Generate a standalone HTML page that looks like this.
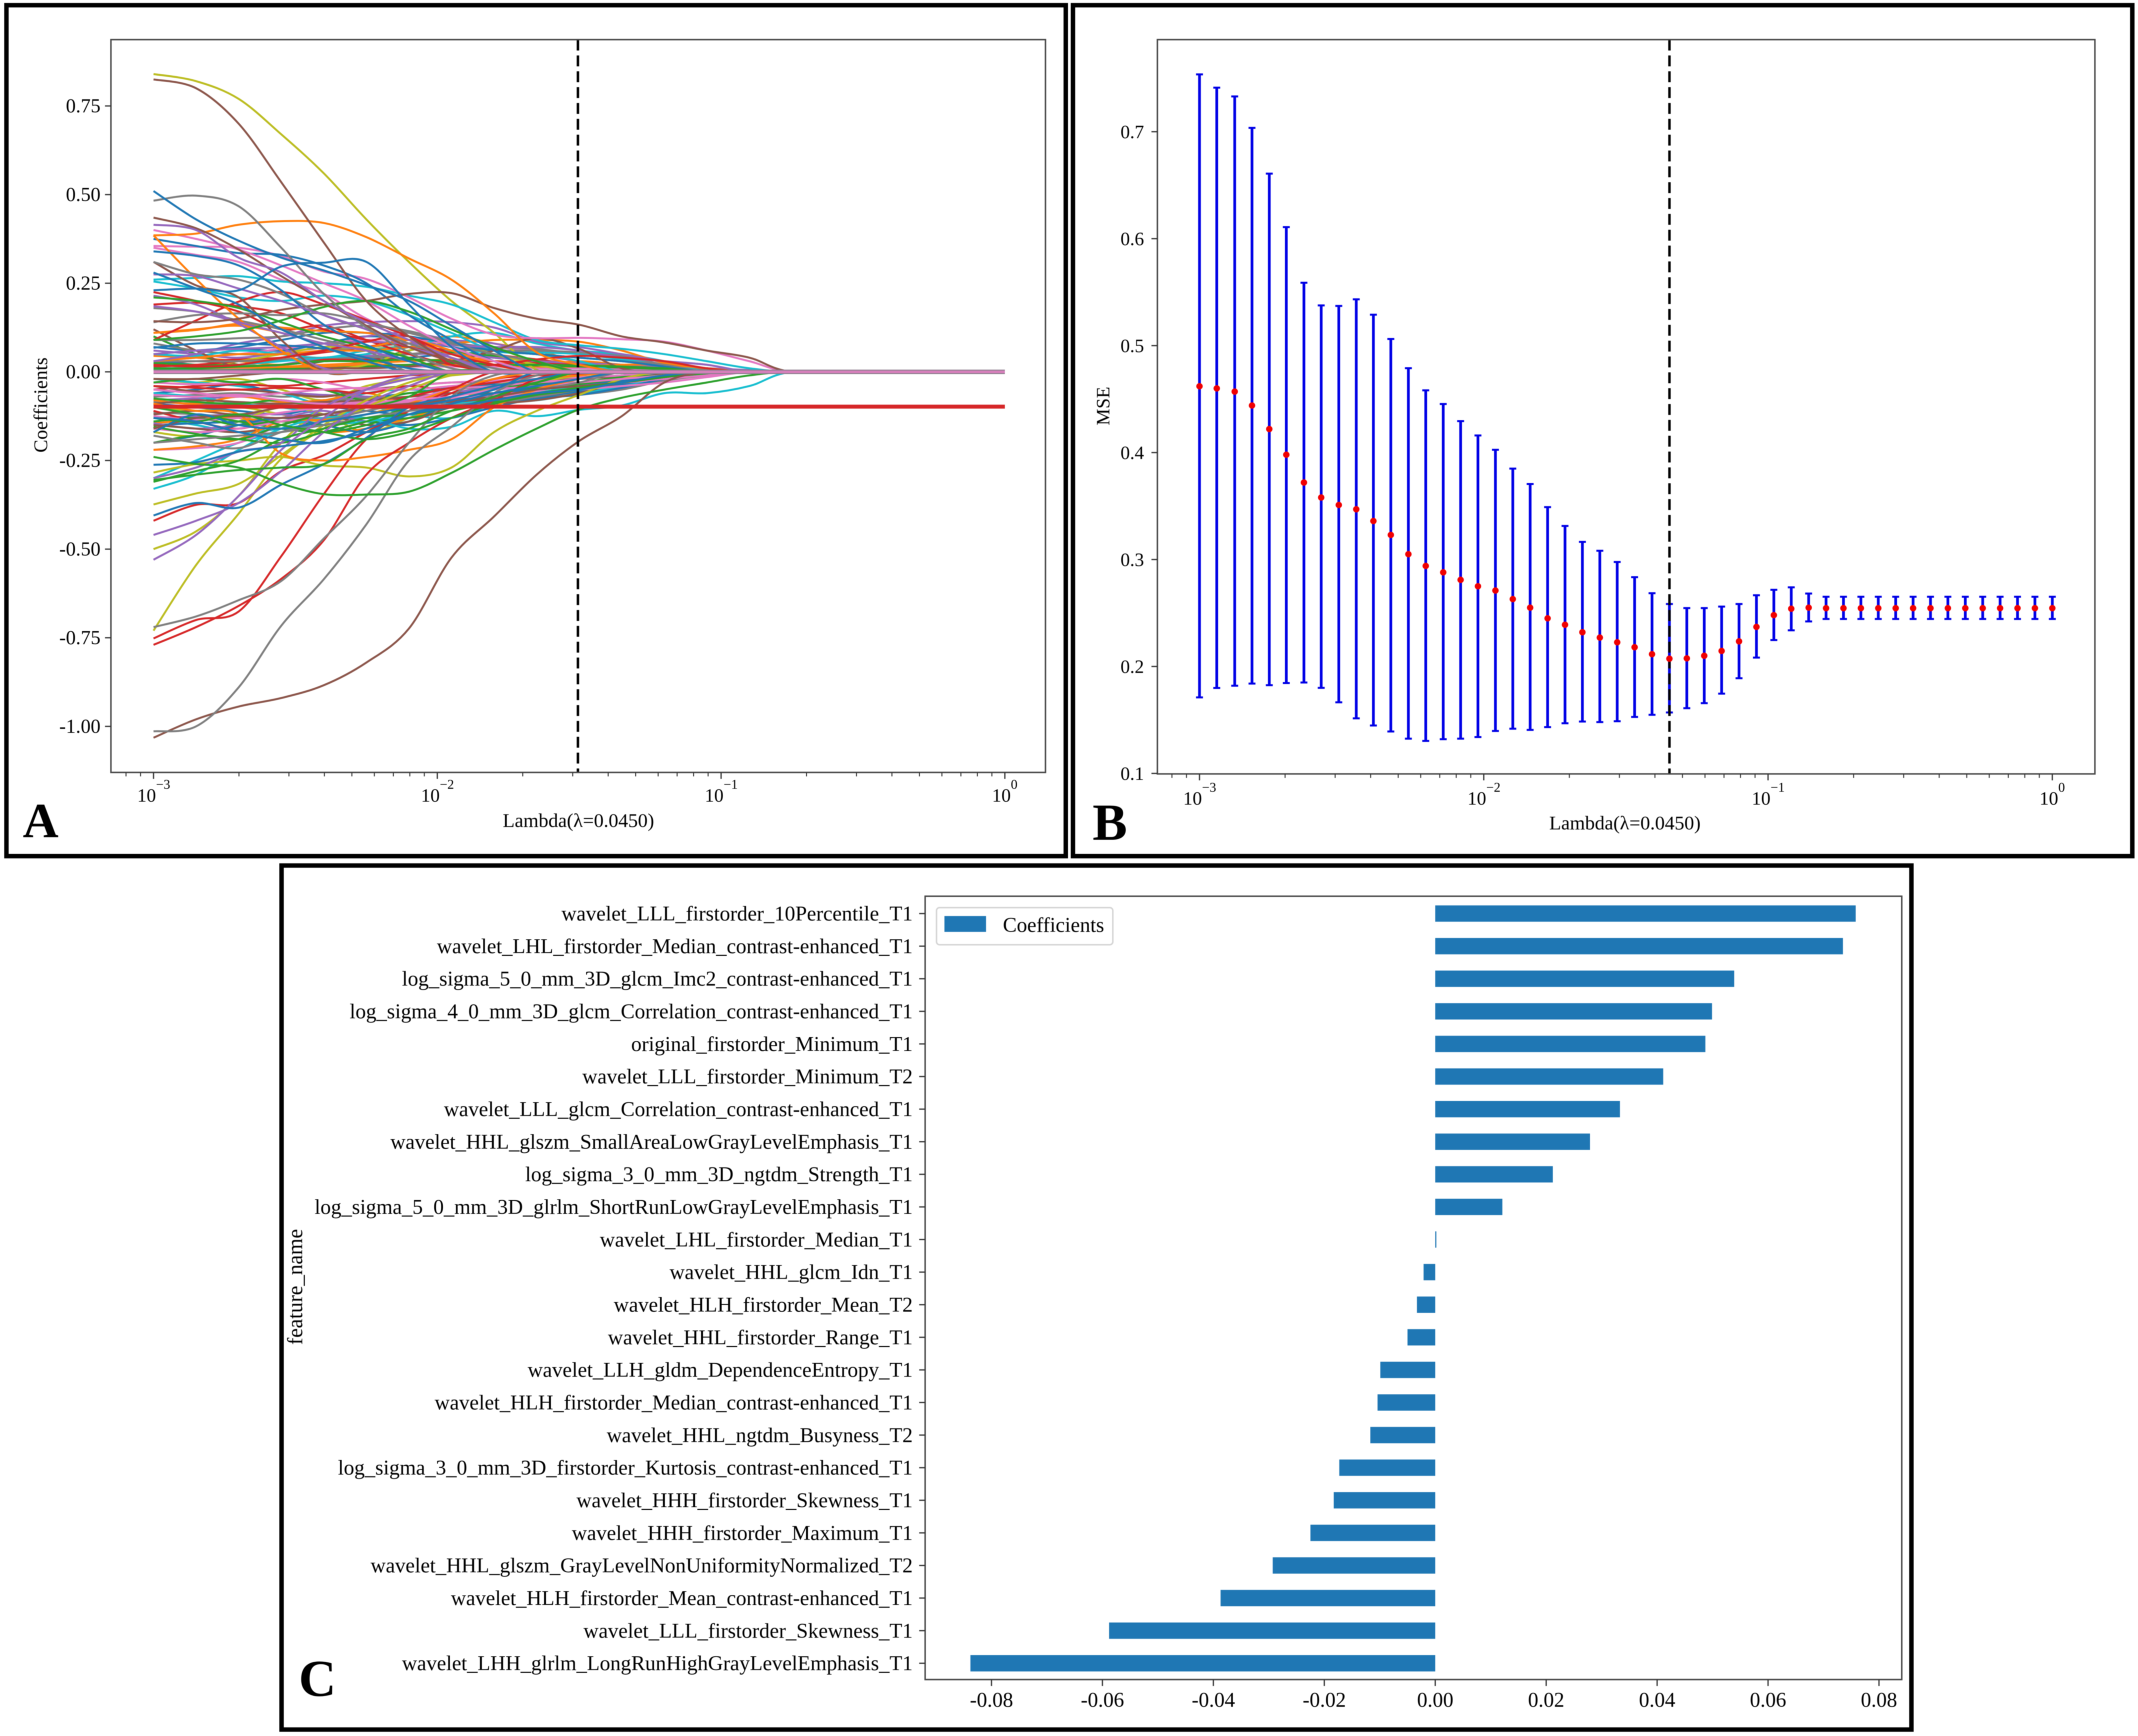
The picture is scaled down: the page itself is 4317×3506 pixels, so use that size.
<!DOCTYPE html>
<html lang="en">
<head>
<meta charset="utf-8">
<title>LASSO feature selection figure</title>
<style>
html,body{margin:0;padding:0;background:#fff;}
svg{display:block;filter:blur(0.7px);}
text{font-family:"Liberation Serif",serif;fill:#000;}
</style>
</head>
<body>
<svg id="figure" xmlns="http://www.w3.org/2000/svg" width="4317" height="3506" viewBox="0 0 4317 3506">
  <rect x="0" y="0" width="4317" height="3506" fill="#fff"/>

  <rect x="13" y="10.5" width="2139" height="1718.5" fill="none" stroke="#000" stroke-width="9"/>
  <rect x="2166.5" y="10.5" width="2139" height="1718.5" fill="none" stroke="#000" stroke-width="9"/>
  <rect x="568.5" y="1748" width="3291" height="1745" fill="none" stroke="#000" stroke-width="9"/>

  <g id="panelA"></g>
  <g id="panelB"></g>
  <g id="panelC"></g>

  <text x="1168" y="1670" font-size="39.5" text-anchor="middle">Lambda(λ=0.0450)</text>
  <text transform="translate(95 818) rotate(-90)" font-size="39.5" text-anchor="middle">Coefficients</text>
  <text x="46" y="1691" font-size="100" font-weight="bold">A</text>

  <text x="3281" y="1675" font-size="39.5" text-anchor="middle">Lambda(λ=0.0450)</text>
  <text transform="translate(2240 820) rotate(-90)" font-size="38" text-anchor="middle">MSE</text>
  <text x="2206" y="1696" font-size="105" font-weight="bold">B</text>

  <text transform="translate(610 2599) rotate(-90)" font-size="43" text-anchor="middle">feature_name</text>
  <text x="603" y="3425" font-size="105" font-weight="bold">C</text>

  <g>
    <rect x="1891" y="1833" width="356" height="75" rx="6" fill="#fff" stroke="#d5d5d5" stroke-width="3"/>
    <rect x="1907" y="1850" width="84" height="32" fill="#1f77b4"/>
    <text x="2025" y="1882" font-size="42">Coefficients</text>
  </g>
</svg>

<script>
// ---------- Panel A data: coefficient paths ----------
const lambdaExponents = [-3,-2.85,-2.7,-2.55,-2.4,-2.25,-2.1,-1.95,-1.8,-1.65,-1.5,-1.35,-1.2,-1.05,-0.9,-0.75,0];
const coefYTicks = [0.75,0.5,0.25,0,-0.25,-0.5,-0.75,-1];
const coefYTickLabels = ["0.75","0.50","0.25","0.00","-0.25","-0.50","-0.75","-1.00"];
const decadeExponents = [-3,-2,-1,0];
const coefCutoffLambda = 0.0313;
// values per lambdaExponents column; columns left off the end are 0
const bluePaths = [
[.07,.06,.065,.06,.08,.1,.09,.07,.05,.03,.02,.01],
[.03,.02,.015,.02,.03,.035,.04,.05,.04,.03,.02,.015,.01],
[-.06,-.05,-.035,-.06,-.05,-.07,-.06,-.045,-.035,-.025,-.015,-.01],
[-.09,-.1,-.11,-.12,-.1,-.11,-.12,-.1,-.08,-.07,-.055,-.035,-.015,-.005],
[-.15,-.145,-.14,-.13,-.12,-.14,-.15,-.13,-.1,-.075,-.065,-.045,-.02],
[-.2,-.18,-.15,-.13,-.15,-.17,-.14,-.09,-.06,-.05,-.04,-.025,-.01],
[.05,.06,.07,.09,.11,.11,.1,.08,.06,.05,.04,.03,.015],
[.068,.08,.08,.075,.065,.04,.01],
[.375,.355,.335,.33,.3,.25,.16,.09,.03],
[.34,.327,.30,.23,.133,.076,.03],
[.28,.235,.19,.12,.07,.03],
[.51,.43,.37,.322,.286,.245,.2,.13,.06],
[.23,.235,.23,.297,.308,.31,.19,.07],
[-.17,-.12,-.15,-.16,-.14,-.12,-.1,-.08,-.05],
[-.405,-.37,-.383,-.318,-.26,-.186,-.1,-.07,-.04,-.02],
[-.262,-.255,-.225,-.21,-.195,-.17,-.12,-.09,-.06,-.04,-.02],
[-.13,-.14,-.17,-.19,-.2,-.16,-.12,-.1,-.08,-.06,-.05,-.03,-.01]
];
const orangePaths = [
[.045,.04,.03,.02,.035,.05,.08,.1,.08,.06,.03,.02,.01],
[.015,.02,.02,.015,.02,.025,.03,.035,.03,.02,.03,.02,.01,.005],
[.005,.01,.012,.012,.015,.02,.02,.02,.02,.015,.015,.02,.02,.01],
[-.08,-.09,-.07,-.085,-.08,-.06,-.09,-.07,-.05,-.02,-.01],
[-.145,-.135,-.13,-.15,-.17,-.16,-.13,-.1,-.08,-.05,-.02],
[.03,.04,.05,.05,.06,.06,.07,.08,.09,.09,.085,.06,.025,.01],
[.11,.118,.135,.125,.115,.11,.09,.05,.03],
[.11,.12,.13,.11,.08,.07,.09,.06,.02],
[.385,.262,.15,.06,0],
[.385,.39,.415,.425,.42,.38,.32,.26,.165,.055,.02],
[-.22,-.21,-.19,-.14,-.135,-.12,-.09,-.05,-.02],
[-.09,-.11,-.12,-.23,-.25,-.24,-.22,-.19,-.1,-.05,-.02]
];
const greenPaths = [
[.1,.05,.02,.01,.015,.03,.06,.08,.06,.05,.04,.03,.02,.01],
[.025,.02,.02,.035,.03,.04,.05,.055,.045,.03,.025,.02,.015,.01],
[.008,.005,.005,.008,.01,.015,.02,.025,.02,.018,.015,.012,.008,.004],
[-.03,-.02,-.03,-.02,-.05,-.08,-.06,-.05,-.04,-.04,-.03,-.02,-.015,-.005],
[-.075,-.085,-.09,-.08,-.1,-.09,-.1,-.08,-.06,-.045,-.035,-.025,-.015],
[-.14,-.13,-.15,-.14,-.15,-.14,-.13,-.11,-.085,-.06,-.05,-.03,-.015],
[-.1,-.12,-.14,-.16,-.17,-.15,-.11,-.07,-.05,-.035,-.03,-.015,-.01],
[.01,.01,.015,.02,.03,.03,.035,.03,.02,.02,.018,.015,.01],
[.21,.2,.18,.14,.1,.07,.04],
[.09,.1,.115,.145,.183,.2,.17,.12,.07,.03],
[-.2,-.18,-.19,-.2,-.17,-.14,-.1,-.07,-.05,-.03],
[-.155,-.175,-.19,-.15,-.12,-.1,-.07],
[-.31,-.28,-.25,-.19,-.16,-.13,-.12,-.1,-.08,-.06,-.045,-.03,-.015],
[-.13,-.14,-.12,-.15,-.17,-.19,-.17,-.13,-.09,-.065,-.05,-.03,-.01],
[-.305,-.29,-.277,-.27,-.26,-.19,-.16,-.11,-.07,-.03],
[-.24,-.26,-.27,-.315,-.345,-.346,-.338,-.285,-.22,-.16,-.106,-.073,-.05,-.03,-.01]
];
const redPaths = [
[.03,.03,.035,.04,.055,.07,.09,.08,.05,.035,.02,.01],
[.015,.02,.03,.035,.035,.035,.035,.03,.03,.025,.02,.01,.005],
[-.05,-.04,-.035,-.04,-.03,-.02,-.01,-.005],
[-.04,-.045,-.05,-.045,-.05,-.06,-.04,-.05,-.02,-.01,-.005],
[-.11,-.14,-.16,-.13,-.12,-.1,-.07,-.045,-.03,-.01],
[.225,.2,.17,.12,.13,.09,.05,.02],
[.19,.195,.185,.165,.12,.09,.07,.04],
[.09,.145,.198,.225,.19,.146,.1,.05,.02],
[.02,.015,.02,.04,.06,.085,.1,.02,.02,.035,.045,.04,.03,.01],
[-.42,-.375,-.37,-.28,-.235,-.17,-.11,-.06,-.02],
[-.752,-.7,-.676,-.52,-.345,-.19,-.11,-.05],
[-.77,-.72,-.66,-.584,-.475,-.29,-.2,-.13,-.08,-.02]
];
const purplePaths = [
[.06,.05,.04,.055,.07,.1,.11,.09,.08,.05,.03,.02,.01],
[.01,.01,.005,.02,.04,.045,.05,.05,.04,.03,.025,.02,.015,.01,.005],
[-.08,-.075,-.07,-.06,-.065,-.07,-.08,-.06,-.04,-.03,-.03,-.02,-.01],
[-.13,-.125,-.12,-.12,-.13,-.11,-.08,-.06,-.045,-.04,-.03,-.02,-.01],
[-.145,-.16,-.15,-.13,-.11,-.14,-.11,-.08,-.07,-.05,-.03,-.02],
[.03,.05,.08,.1,.13,.14,.143,.14,.125,.085,.07,.05,.03,.02],
[.05,.06,.065,.07,.08,.085,.08,.075,.07,.07,.06,.04,.03,.02],
[.215,.19,.135,.07,.01],
[.185,.17,.14,.11,.08,.06,.03],
[.275,.27,.235,.2,.16,.12,.07,.04],
[.415,.4,.322,.28,.2,.14,.09,.04],
[-.3,-.27,-.225,-.2,-.1,-.05,-.02],
[-.46,-.42,-.37,-.28,-.17,-.09,-.04],
[-.53,-.46,-.35,-.22,-.13,-.05,-.01]
];
const brownPaths = [
[.02,.03,.02,.01,.03,.05,.07,.06,.04,.03,.025,.015,.005],
[.12,.06,.01,0],
[-.04,-.055,-.05,-.06,-.07,-.05,-.04,-.03,-.03,-.025,-.02,-.012,-.005],
[-.09,-.08,-.085,-.09,-.085,-.08,-.07,-.06,-.06,-.05,-.04,-.03,-.015],
[-.12,-.11,-.12,-.1,-.09,-.1,-.09,-.085,-.075,-.07,-.05,-.03,-.02,-.01],
[-.15,-.16,-.17,-.15,-.12,-.15,-.14,-.1,-.09,-.08,-.06,-.03,-.015],
[-.02,-.02,-.01,0,.01,.01,.015,.03,.06,.095,.065,.01],
[.31,.244,.21,.09,0],
[.143,.14,.15,.175,.19,.2,.22,.222,.18,.15,.133,.10,.083,.06,.04],
[.435,.405,.345,.27,.2,.13,.07,.03],
[.825,.80,.70,.535,.365,.2,.1,.03],
[-.16,-.13,-.125,-.13,-.12,-.1,-.09,-.08,-.07,-.05,-.04,-.03,-.015],
[-1.032,-.98,-.944,-.92,-.884,-.82,-.724,-.524,-.408,-.29,-.195,-.125,-.03]
];
const pinkPaths = [
[.03,.04,.05,.065,.08,.09,.09,.08,.07,.06,.05,.04,.02,.01],
[.005,.005,.01,.01,.015,.02,.015,.015,.015,.01,.01,.008,.005],
[-.03,-.035,-.03,-.02,-.03,-.05,-.04,-.03,-.025,-.02,-.015,-.01],
[-.05,-.06,-.07,-.06,-.05,-.045,-.05,-.04,-.03,-.025,-.03,-.03,-.02,-.01],
[-.065,-.07,-.065,-.08,-.09,-.085,-.08,-.075,-.07,-.06,-.05,-.03,-.02,-.01],
[-.125,-.135,-.13,-.115,-.1,-.09,-.085,-.075,-.065,-.055,-.05,-.04,-.03,-.015],
[.35,.33,.31,.26,.22,.15,.1,.06,.02],
[.355,.353,.35,.327,.283,.262,.21,.15,.105,.095,.096,.092,.085,.06,.03],
[.4,.375,.345,.30,.25,.2,.13,.07,.03],
[-.22,-.215,-.2,-.15,-.12,-.1,-.08,-.05,-.04,-.03,-.02],
[-.16,-.17,-.16,-.14,-.12,-.1,-.08,-.07,-.05,-.04,-.03,-.02,-.01]
];
const grayPaths = [
[.08,.06,.05,.05,.06,.07,.08,.075,.07,.065,.05,.04,.02,.005],
[-.07,-.065,-.06,-.07,-.065,-.075,-.07,-.06,-.05,-.04,-.03,-.02,-.01],
[-.085,-.09,-.095,-.09,-.08,-.075,-.08,-.09,-.085,-.075,-.06,-.045,-.02,-.005],
[-.115,-.12,-.13,-.14,-.13,-.1,-.09,-.095,-.085,-.075,-.065,-.05,-.025,-.01],
[.03,.03,.03,.035,.04,.04,.05,.06,.06,.06,.055,.045,.02,.005],
[.09,.09,.095,.1,.12,.13,.115,.085,.065,.05,.04,.03,.02],
[.18,.17,.145,.12,.09,.06],
[.14,.16,.165,.16,.165,.14,.11,.08,.05,.03],
[.31,.275,.26,.22,.16,.12,.08,.04,.01],
[.483,.497,.467,.35,.22,.125,.055,.01],
[-.18,-.2,-.215,-.17,-.14,-.11,-.09,-.08,-.07,-.05,-.03],
[-.2,-.19,-.18,-.17,-.15,-.13,-.11,-.1,-.08,-.07,-.05,-.03,-.015],
[-.72,-.69,-.644,-.59,-.47,-.35,-.2,-.07,-.01],
[-1.014,-1,-.89,-.716,-.585,-.43,-.25,-.155,-.06,-.01]
];
const olivePaths = [
[.02,.015,.03,.05,.07,.065,.07,.05,.03,.02,.01,.01],
[-.02,-.03,-.02,-.05,-.08,-.04,-.02,-.01],
[-.1,-.11,-.1,-.12,-.14,-.12,-.09,-.07,-.05,-.03,-.01],
[-.17,-.18,-.14,-.1,-.12,-.17,-.13,-.09,-.04,-.02],
[0,0,0,0,.005,.02,.06,.08,.05,.02],
[.84,.82,.77,.67,.56,.43,.31,.2,.11,.006],
[-.374,-.343,-.316,-.235,-.15,-.08,-.03,-.005],
[-.5,-.45,-.35,-.2,-.1,-.05,-.01],
[-.73,-.545,-.4,-.245,-.16,-.1,-.05,-.01],
[-.284,-.26,-.25,-.24,-.264,-.27,-.295,-.27,-.17,-.11,-.065,-.02]
];
const cyanPaths = [
[.05,.045,.06,.05,.04,.06,.07,.05,.06,.055,.05,.035,.02,.01],
[-.02,-.03,-.04,-.06,-.09,-.06,-.05,-.06,-.05,-.03,-.02,-.01],
[-.06,-.07,-.09,-.1,-.12,-.13,-.11,-.09,-.08,-.08,-.06,-.04,-.02,-.005],
[-.13,-.15,-.17,-.16,-.14,-.1,-.12,-.13,-.09,-.06,-.05,-.03,-.01],
[.01,.01,.02,.03,.04,.05,.07,.1,.11,.08,.06,.05,.03],
[.255,.235,.21,.2,.215,.2,.16,.11,.06,.05,.03],
[.26,.265,.27,.255,.25,.24,.215,.19,.14,.09,.075,.065,.05,.03,.01],
[-.3,-.25,-.2,-.17,-.15,-.14,-.12,-.1,-.08,-.06,-.04,-.03,-.01],
[-.33,-.29,-.22,-.16,-.13,-.13,-.16,-.155,-.11,-.125,-.107,-.095,-.06,-.06,-.04]
];
const zeroPath = [0,0,0,0,0,0,0,0,0,0,0,0,0,0,0,0,0];
const flatPath = [-.098,-.098,-.098,-.098,-.098,-.098,-.098,-.098,-.098,-.098,-.098,-.098,-.098,-.098,-.098,-.098,-.098];

// ---------- Panel B data ----------
const mseLambdas = [0.001,0.00115,0.00133,0.00153,0.00176,0.00202,0.00233,0.00268,0.00309,0.00356,0.00409,0.00471,0.00543,0.00625,0.0072,0.00829,0.00954,0.01099,0.01265,0.01456,0.01677,0.01931,0.02223,0.0256,0.02947,0.03393,0.03907,0.04498,0.05179,0.05964,0.06866,0.07906,0.09103,0.10481,0.12068,0.13895,0.15999,0.18421,0.2121,0.24421,0.28118,0.32375,0.37276,0.42919,0.49417,0.56899,0.65513,0.75431,0.86851,1];
const mseMean = [.462,.46,.457,.444,.422,.398,.372,.358,.351,.347,.336,.323,.305,.294,.288,.281,.275,.271,.263,.255,.245,.239,.232,.227,.2226,.218,.2115,.2073,.2076,.21,.2145,.2235,.237,.248,.254,.255,.2545,.2545,.2545,.2545,.2545,.2545,.2545,.2545,.2545,.2545,.2545,.2545,.2545,.2545];
const mseUpper = [.7536,.7412,.733,.7036,.6608,.6108,.5588,.5376,.5371,.5433,.5289,.5062,.4789,.4582,.4454,.4294,.416,.4026,.385,.3706,.349,.3314,.3165,.3082,.2977,.2835,.2685,.2584,.2546,.2546,.256,.2584,.2666,.2717,.274,.2682,.2652,.2652,.2652,.2652,.2652,.2652,.2652,.2652,.2652,.2652,.2652,.2652,.2652,.2652];
const mseLower = [.1711,.1799,.182,.184,.1825,.1845,.185,.18,.1665,.1515,.1448,.1392,.1325,.1304,.132,.1325,.134,.1397,.1418,.1407,.1433,.1469,.1485,.148,.1488,.1528,.1548,.157,.161,.1657,.1746,.189,.2083,.2247,.2338,.2421,.2444,.2444,.2444,.2444,.2444,.2444,.2444,.2444,.2444,.2444,.2444,.2444,.2444,.2444];
const mseYTicks = [0.1,0.2,0.3,0.4,0.5,0.6,0.7];
const mseYTickLabels = ["0.1","0.2","0.3","0.4","0.5","0.6","0.7"];
const mseCutoffLambda = 0.045;

// ---------- Panel C data ----------
const featureNames = ["wavelet_LLL_firstorder_10Percentile_T1","wavelet_LHL_firstorder_Median_contrast-enhanced_T1","log_sigma_5_0_mm_3D_glcm_Imc2_contrast-enhanced_T1","log_sigma_4_0_mm_3D_glcm_Correlation_contrast-enhanced_T1","original_firstorder_Minimum_T1","wavelet_LLL_firstorder_Minimum_T2","wavelet_LLL_glcm_Correlation_contrast-enhanced_T1","wavelet_HHL_glszm_SmallAreaLowGrayLevelEmphasis_T1","log_sigma_3_0_mm_3D_ngtdm_Strength_T1","log_sigma_5_0_mm_3D_glrlm_ShortRunLowGrayLevelEmphasis_T1","wavelet_LHL_firstorder_Median_T1","wavelet_HHL_glcm_Idn_T1","wavelet_HLH_firstorder_Mean_T2","wavelet_HHL_firstorder_Range_T1","wavelet_LLH_gldm_DependenceEntropy_T1","wavelet_HLH_firstorder_Median_contrast-enhanced_T1","wavelet_HHL_ngtdm_Busyness_T2","log_sigma_3_0_mm_3D_firstorder_Kurtosis_contrast-enhanced_T1","wavelet_HHH_firstorder_Skewness_T1","wavelet_HHH_firstorder_Maximum_T1","wavelet_HHL_glszm_GrayLevelNonUniformityNormalized_T2","wavelet_HLH_firstorder_Mean_contrast-enhanced_T1","wavelet_LLL_firstorder_Skewness_T1","wavelet_LHH_glrlm_LongRunHighGrayLevelEmphasis_T1"];
const featureCoefficients = [.0758,.0735,.0539,.0499,.0487,.0411,.0333,.0279,.0212,.0121,.0002,-.0021,-.0033,-.005,-.0099,-.0104,-.0117,-.0173,-.0183,-.0225,-.0293,-.0387,-.0588,-.0838];
const featureXTicks = [-.08,-.06,-.04,-.02,0,.02,.04,.06,.08];
const featureXTickLabels = ["-0.08","-0.06","-0.04","-0.02","0.00","0.02","0.04","0.06","0.08"];

// ---------- Axis functions ----------
const SVG_NS = "http://www.w3.org/2000/svg";
function coefX(exponent){ return 310 + (exponent + 3) * 573; }
function coefY(value){ return 751 - value * 716; }
function mseX(lambda){ return 2422 + (Math.log10(lambda) + 3) * 574; }
function mseY(value){ return 1562 - (value - 0.1) * 2160; }
function featureX(value){ return 2898 + value * 11200; }
function featureY(index){ return 1845 + index * 65.83; }

function make(tag, parent, attrs, content){
  const node = document.createElementNS(SVG_NS, tag);
  for (const key in attrs) node.setAttribute(key, attrs[key]);
  if (content !== undefined) node.textContent = content;
  parent.appendChild(node);
  return node;
}
function smoothPath(points){
  let d = "M" + points[0][0].toFixed(1) + " " + points[0][1].toFixed(1);
  for (let i = 0; i < points.length - 1; i++){
    const p0 = points[Math.max(i - 1, 0)], p1 = points[i], p2 = points[i + 1], p3 = points[Math.min(i + 2, points.length - 1)];
    const limit = p2[0] - p1[0];
    const c1x = p1[0] + Math.min((p2[0] - p0[0]) / 6, limit / 2), c1y = p1[1] + (p2[1] - p0[1]) / 6;
    const c2x = p2[0] - Math.min((p3[0] - p1[0]) / 6, limit / 2), c2y = p2[1] - (p3[1] - p1[1]) / 6;
    d += "C" + c1x.toFixed(1) + " " + c1y.toFixed(1) + " " + c2x.toFixed(1) + " " + c2y.toFixed(1) + " " + p2[0].toFixed(1) + " " + p2[1].toFixed(1);
  }
  return d;
}
function drawSpines(parent, left, top, right, bottom, prefix){
  const box = make("rect", parent, {x:left, y:top, width:right-left, height:bottom-top, fill:"none", stroke:"#4a4a4a", "stroke-width":3});
  
  
}
function drawLogAxis(parent, xFn, left, right, bottom, sup10, supBase, prefix){
  const lowExp = Math.floor(xFn.min), highExp = Math.ceil(xFn.max);
  for (let e = lowExp; e < highExp; e++){
    for (let k = 2; k < 10; k++){
      const x = xFn.at(e + Math.log10(k));
      if (x <= left || x >= right) continue;
      const minor = make("line", parent, {x1:x, x2:x, y1:bottom, y2:bottom + 8, stroke:"#333", "stroke-width":2});
      
      
    }
  }
  decadeExponents.forEach(function(exp){
    const x = xFn.at(exp);
    const major = make("line", parent, {x1:x, x2:x, y1:bottom, y2:bottom + 13, stroke:"#333", "stroke-width":2.5});
    
    
    const supText = exp === 0 ? "0" : "\u2212" + Math.abs(exp);
    const supWidth = exp === 0 ? 14 : 28;
    const end = x - (38 + supWidth) / 2 + 38;
    const base = make("text", parent, {x:end, y:sup10, "font-size":38, "text-anchor":"end"}, "10");
    
    
    const sup = make("text", parent, {x:end, y:supBase, "font-size":27}, supText);
    
    
  });
}
function drawDashed(parent, x, top, bottom, name){
  const dash = make("line", parent, {x1:x, x2:x, y1:top, y2:bottom, stroke:"#000", "stroke-width":5, "stroke-dasharray":"22 10"});
  
  
}

// ---------- Panel A ----------
(function(){
  const g = document.getElementById("panelA");
  const left = 224, top = 80, right = 2111, bottom = 1560;
  function addPath(values, color, width, name){
    const points = lambdaExponents.map(function(e, i){
      return [coefX(e), coefY(values[i] === undefined ? 0 : values[i])];
    });
    const line = make("path", g, {d:smoothPath(points), fill:"none", stroke:color, "stroke-width":width, "stroke-linejoin":"round"});
    
    
  }
  const colourGroups = [
    ["#1f77b4", bluePaths], ["#ff7f0e", orangePaths], ["#2ca02c", greenPaths], ["#d62728", redPaths],
    ["#9467bd", purplePaths], ["#8c564b", brownPaths], ["#e377c2", pinkPaths], ["#7f7f7f", grayPaths],
    ["#bcbd22", olivePaths], ["#17becf", cyanPaths]
  ];
  for (let i = 0; i < 20; i++){
    colourGroups.forEach(function(group){
      if (group[1][i]) addPath(group[1][i], group[0], 4, 'coefficient-path');
    });
  }
  addPath(zeroPath, "#8f7f8f", 9, 'coefficient-zero-band');
  addPath(zeroPath, "#d67fbb", 5, 'coefficient-zero-line');
  addPath(flatPath, "#d62728", 8, 'coefficient-flat-line');
  drawDashed(g, coefX(Math.log10(coefCutoffLambda)), top, bottom, 'panel-a-lambda-cutoff');
  drawSpines(g, left, top, right, bottom, 'panel-a');
  coefYTicks.forEach(function(v, i){
    const tick = make("line", g, {x1:left - 12, x2:left, y1:coefY(v), y2:coefY(v), stroke:"#333", "stroke-width":2.5});
    
    
    const label = make("text", g, {x:left - 21, y:coefY(v) + 13, "font-size":40, "text-anchor":"end"}, coefYTickLabels[i]);
    
    
  });
  drawLogAxis(g, {min:-3.15, max:0.143, at:coefX}, left, right, bottom, 1619, 1593, 'panel-a');
})();

// ---------- Panel B ----------
(function(){
  const g = document.getElementById("panelB");
  const left = 2337, top = 80, right = 4230, bottom = 1563;
  mseLambdas.forEach(function(lambda, i){
    const x = mseX(lambda);
    const bar = make("line", g, {x1:x, x2:x, y1:mseY(mseUpper[i]), y2:mseY(mseLower[i]), stroke:"#0000e6", "stroke-width":5.5});
    
    
    const capTop = make("line", g, {x1:x - 7, x2:x + 7, y1:mseY(mseUpper[i]), y2:mseY(mseUpper[i]), stroke:"#0000e6", "stroke-width":4});
    
    
    const capLow = make("line", g, {x1:x - 7, x2:x + 7, y1:mseY(mseLower[i]), y2:mseY(mseLower[i]), stroke:"#0000e6", "stroke-width":4});
    
    
  });
  drawDashed(g, mseX(mseCutoffLambda), top, bottom, 'panel-b-lambda-cutoff');
  mseLambdas.forEach(function(lambda, i){
    const dot = make("circle", g, {cx:mseX(lambda), cy:mseY(mseMean[i]), r:6.5, fill:"#f00000"});
    
    
  });
  drawSpines(g, left, top, right, bottom, 'panel-b');
  mseYTicks.forEach(function(v, i){
    const tick = make("line", g, {x1:left - 12, x2:left, y1:mseY(v), y2:mseY(v), stroke:"#333", "stroke-width":2.5});
    
    
    const label = make("text", g, {x:left - 27, y:mseY(v) + 13, "font-size":38, "text-anchor":"end"}, mseYTickLabels[i]);
    
    
  });
  drawLogAxis(g, {min:-3.148, max:0.15, at:function(e){ return mseX(Math.pow(10, e)); }}, left, right, bottom, 1625, 1599, 'panel-b');
})();

// ---------- Panel C ----------
(function(){
  const g = document.getElementById("panelC");
  const left = 1868, top = 1810, right = 3840, bottom = 3392;
  featureCoefficients.forEach(function(value, i){
    const x0 = featureX(Math.min(value, 0)), x1 = featureX(Math.max(value, 0));
    const bar = make("rect", g, {x:x0, y:featureY(i) - 16.5, width:Math.max(x1 - x0, 1), height:33, fill:"#1f77b4"});
    
    
  });
  drawSpines(g, left, top, right, bottom, 'panel-c');
  featureNames.forEach(function(name, i){
    const tick = make("line", g, {x1:left - 12, x2:left, y1:featureY(i), y2:featureY(i), stroke:"#333", "stroke-width":2.5});
    
    
    const label = make("text", g, {x:left - 25, y:featureY(i) + 14, "font-size":42.3, "text-anchor":"end"}, name);
    
    
  });
  featureXTicks.forEach(function(v, i){
    const tick = make("line", g, {x1:featureX(v), x2:featureX(v), y1:bottom, y2:bottom + 13, stroke:"#333", "stroke-width":2.5});
    
    
    const label = make("text", g, {x:featureX(v), y:3447, "font-size":42, "text-anchor":"middle"}, featureXTickLabels[i]);
    
    
  });
})();
</script>
</body>
</html>
